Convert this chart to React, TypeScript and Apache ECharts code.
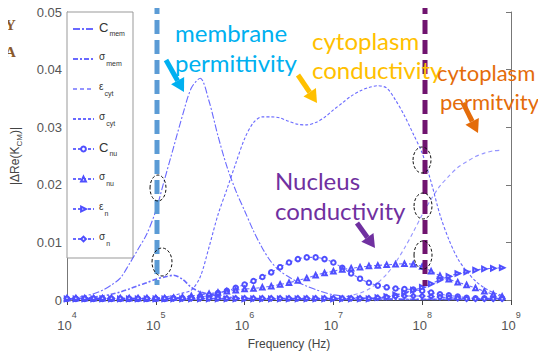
import React, { useEffect, useRef } from "react";
import * as echarts from "echarts";

// log10(frequency) sampling points
const FREQ_EXP = [
  4.0, 4.1, 4.2, 4.3, 4.4, 4.5, 4.6, 4.7, 4.8, 4.9,
  5.0, 5.1, 5.2, 5.3, 5.4, 5.5, 5.6, 5.7, 5.8, 5.9,
  6.0, 6.1, 6.2, 6.3, 6.4, 6.5, 6.6, 6.7, 6.8, 6.9,
  7.0, 7.1, 7.2, 7.3, 7.4, 7.5, 7.6, 7.7, 7.8, 7.9,
  8.0, 8.1, 8.2, 8.3, 8.4, 8.5, 8.6, 8.7, 8.8, 8.9,
];

const C_MEM = [
  0.0002, 0.0004, 0.0007, 0.0011, 0.0017, 0.0026, 0.0038, 0.0062, 0.0088, 0.0115,
  0.0155, 0.021, 0.0265, 0.032, 0.0368, 0.0385, 0.0345, 0.0285, 0.0232, 0.019,
  0.0155, 0.012, 0.009, 0.0066, 0.005, 0.004, 0.0031, 0.0024, 0.0018, 0.0013,
  0.0009, 0.0007, 0.0005, 0.0004, 0.0003, 0.0002, 0.0002, 0.0002, 0.0001, 0.0001,
  0.0001, 0.0001, 0.0001, 0.0001, 0.0001, 0.0001, 0.0001, 0.0001, 0.0001, 0.0001,
];
const SIG_MEM = [
  0.0001, 0.0002, 0.0003, 0.0005, 0.0007, 0.001, 0.0014, 0.0019, 0.0025, 0.003,
  0.0036, 0.004, 0.0043, 0.0036, 0.0022, 0.0014, 0.001, 0.0007, 0.0005, 0.0004,
  0.0003, 0.0002, 0.0002, 0.0002, 0.0001, 0.0001, 0.0001, 0.0001, 0.0001, 0.0001,
  0.0001, 0.0001, 0.0001, 0.0001, 0.0001, 0.0001, 0.0001, 0.0001, 0.0001, 0.0001,
  0.0001, 0.0001, 0.0001, 0.0001, 0.0001, 0.0001, 0.0001, 0.0001, 0.0001, 0.0001,
];
const EPS_CYT = [
  0.0001, 0.0001, 0.0001, 0.0001, 0.0001, 0.0001, 0.0001, 0.0001, 0.0001, 0.0001,
  0.0001, 0.0001, 0.0001, 0.0001, 0.0001, 0.0001, 0.0001, 0.0001, 0.0001, 0.0001,
  0.0001, 0.0001, 0.0001, 0.0001, 0.0001, 0.0002, 0.0002, 0.0002, 0.0002, 0.0002,
  0.0003, 0.0005, 0.0008, 0.0012, 0.0019, 0.003, 0.0045, 0.0065, 0.009, 0.0118,
  0.0148, 0.0175, 0.0198, 0.0215, 0.023, 0.024, 0.0249, 0.0255, 0.0259, 0.026,
];
const SIG_CYT = [
  0.0001, 0.0001, 0.0001, 0.0001, 0.0001, 0.0001, 0.0002, 0.0002, 0.0002, 0.0002,
  0.0003, 0.0005, 0.0008, 0.0012, 0.0017, 0.004, 0.0092, 0.0148, 0.0192, 0.0237,
  0.028, 0.0308, 0.0318, 0.0318, 0.0316, 0.031, 0.0305, 0.0304, 0.0308, 0.0317,
  0.033, 0.0342, 0.0354, 0.0363, 0.0369, 0.0372, 0.0368, 0.0347, 0.032, 0.0288,
  0.0255, 0.0205, 0.0148, 0.0105, 0.0072, 0.005, 0.0033, 0.0021, 0.0013, 0.0008,
];
const C_NU = [
  0.0002, 0.0002, 0.0002, 0.0002, 0.0002, 0.0002, 0.0002, 0.0002, 0.0002, 0.0002,
  0.0002, 0.0002, 0.0003, 0.0003, 0.0004, 0.0005, 0.0008, 0.0012, 0.0016, 0.0021,
  0.0027, 0.0033, 0.004, 0.0048, 0.0057, 0.0065, 0.0071, 0.0074, 0.0074, 0.0071,
  0.0065, 0.0056, 0.0046, 0.0037, 0.003, 0.0025, 0.0022, 0.002, 0.0019, 0.0018,
  0.0016, 0.0013, 0.001, 0.0008, 0.0006, 0.0004, 0.0003, 0.0003, 0.0003, 0.0003,
];
const SIG_NU = [
  0.0003, 0.0003, 0.0003, 0.0003, 0.0003, 0.0003, 0.0003, 0.0003, 0.0003, 0.0003,
  0.0003, 0.0003, 0.0004, 0.0005, 0.0007, 0.0009, 0.0011, 0.0013, 0.0015, 0.0017,
  0.0019, 0.002, 0.0022, 0.0024, 0.0027, 0.003, 0.0034, 0.0038, 0.0043, 0.0047,
  0.005, 0.0053, 0.0055, 0.0057, 0.0059, 0.006, 0.0061, 0.0062, 0.0063, 0.0062,
  0.0058, 0.005, 0.0042, 0.0036, 0.0031, 0.0026, 0.0021, 0.0015, 0.001, 0.0006,
];
const EPS_N = [
  0.0002, 0.0002, 0.0002, 0.0002, 0.0002, 0.0002, 0.0002, 0.0002, 0.0002, 0.0002,
  0.0002, 0.0002, 0.0002, 0.0002, 0.0002, 0.0002, 0.0002, 0.0002, 0.0002, 0.0002,
  0.0002, 0.0002, 0.0002, 0.0002, 0.0002, 0.0002, 0.0002, 0.0002, 0.0002, 0.0002,
  0.0002, 0.0002, 0.0002, 0.0002, 0.0002, 0.0004, 0.0006, 0.0009, 0.0013, 0.0017,
  0.0022, 0.0028, 0.0035, 0.0041, 0.0046, 0.0049, 0.0052, 0.0054, 0.0055, 0.0056,
];
const SIG_N = [
  0.0003, 0.0003, 0.0003, 0.0003, 0.0003, 0.0003, 0.0003, 0.0003, 0.0003, 0.0003,
  0.0003, 0.0003, 0.0003, 0.0003, 0.0003, 0.0003, 0.0003, 0.0003, 0.0003, 0.0003,
  0.0003, 0.0003, 0.0003, 0.0003, 0.0003, 0.0003, 0.0003, 0.0003, 0.0003, 0.0003,
  0.0003, 0.0003, 0.0003, 0.0003, 0.0003, 0.0004, 0.0005, 0.0006, 0.0007, 0.0007,
  0.0007, 0.0006, 0.0005, 0.0004, 0.0003, 0.0002, 0.0002, 0.0002, 0.0002, 0.0002,
];

const SERIES_NAMES = ["C_mem", "σ_mem", "ε_cyt", "σ_cyt", "C_nu", "σ_nu", "ε_n", "σ_n"];
const SERIES_VALUES = [C_MEM, SIG_MEM, EPS_CYT, SIG_CYT, C_NU, SIG_NU, EPS_N, SIG_N];
const Y_TICKS = [0, 0.01, 0.02, 0.03, 0.04, 0.05];

const LINE_COLOR = "#4f4fff";

function arrow(x1: number, y1: number, x2: number, y2: number, color: string) {
  const dx = x2 - x1, dy = y2 - y1;
  const L = Math.hypot(dx, dy);
  const ux = dx / L, uy = dy / L;
  const px = -uy, py = ux;
  const hl = 13, hw = 15;
  const bx = x2 - ux * hl, by = y2 - uy * hl;
  return [
    { type: "line", z: 20, shape: { x1, y1, x2: bx, y2: by }, style: { stroke: color, lineWidth: 5 } },
    {
      type: "polygon", z: 20,
      shape: { points: [[x2, y2], [bx + (px * hw) / 2, by + (py * hw) / 2], [bx - (px * hw) / 2, by - (py * hw) / 2]] },
      style: { fill: color },
    },
  ];
}

function label(text: string, x: number, y: number, color: string, size = 24) {
  return {
    type: "text", z: 21, x, y,
    style: { text, fill: color, fontSize: size, fontFamily: "Lato", align: "left", verticalAlign: "middle" },
  };
}

function ell(cx: number, cy: number, rx: number, ry: number) {
  return {
    type: "ellipse", z: 19, shape: { cx, cy, rx, ry },
    style: { fill: "none", stroke: "#111", lineWidth: 1, lineDash: [3, 2] },
  };
}

const LEGEND_RICH: Record<string, string> = {
  C_mem: "{m|C}{s|mem}",
  "σ_mem": "{g|σ}{s|mem}",
  "ε_cyt": "{g|ε}{s|cyt}",
  "σ_cyt": "{g|σ}{s|cyt}",
  C_nu: "{m|C}{s|nu}",
  "σ_nu": "{g|σ}{s|nu}",
  "ε_n": "{g|ε}{s|n}",
  "σ_n": "{g|σ}{s|n}",
};

export default function App() {
  const ref = useRef<HTMLDivElement>(null);
  useEffect(() => {
    if (!ref.current) return;
    const chart = echarts.init(ref.current, null, { renderer: "svg" });
    const freqs = FREQ_EXP.map((e) => Math.pow(10, e));
    const styles: any[] = [
      { type: [7, 2, 2, 2], symbol: "none" },
      { type: [5, 2, 2, 2], symbol: "none", width: 1.6 },
      { type: [4, 3], symbol: "none", opacity: 0.6 },
      { type: [3, 2], symbol: "none" },
      { type: [3, 2], symbol: "emptyCircle" },
      { type: [3, 2], symbol: "emptyTriangle" },
      { type: [3, 2], symbol: "emptyTriangle", rotate: -90 },
      { type: [3, 2], symbol: "emptyDiamond" },
    ];
    const series = SERIES_NAMES.map((name, i) => ({
      name,
      type: "line",
      data: freqs.map((f, j) => [f, SERIES_VALUES[i][j]]),
      symbol: styles[i].symbol,
      symbolSize: 4.5,
      symbolRotate: styles[i].rotate || 0,
      smooth: 0.3,
      lineStyle: {
        color: LINE_COLOR,
        width: styles[i].width || 1.1,
        type: styles[i].type,
        opacity: styles[i].opacity ?? 0.85,
      },
      itemStyle: { color: LINE_COLOR, borderWidth: 1 },
    }));
    const axisLine = { show: true, lineStyle: { color: "#777", width: 1 } };
    chart.setOption({
      animation: false,
      grid: { left: 67, right: 35, top: 12, bottom: 59 },
      legend: {
        orient: "vertical",
        left: 72,
        top: 21,
        itemWidth: 21,
        itemHeight: 6,
        itemGap: 14,
        padding: 0,
        data: SERIES_NAMES.map((name, i) =>
          styles[i].symbol === "none" ? { name, itemStyle: { opacity: 0 } } : { name }
        ),
        formatter: (n: string) => LEGEND_RICH[n],
        textStyle: {
          color: "#333",
          fontFamily: "Liberation Sans",
          rich: {
            m: { fontSize: 13, lineHeight: 16, verticalAlign: "top" },
            g: { fontSize: 10, lineHeight: 16, verticalAlign: "top" },
            s: { fontSize: 7, lineHeight: 16, verticalAlign: "bottom", padding: [6, 0, 0, 1] },
          },
        },
      },
      xAxis: [
        {
          type: "log",
          logBase: 10,
          min: 1e4,
          max: 1e9,
          position: "bottom",
          name: "Frequency (Hz)",
          nameLocation: "middle",
          nameGap: 38,
          nameTextStyle: { fontSize: 12, color: "#444", fontFamily: "Liberation Sans" },
          axisLine,
          axisTick: { show: true, inside: true, length: 5, lineStyle: { color: "#777" } },
          splitLine: { show: false },
          axisLabel: {
            margin: 10,
            formatter: (v: number) => "{b|10}{sup|" + Math.round(Math.log10(v)) + "}",
            rich: {
              b: { fontSize: 13, color: "#555", fontFamily: "Liberation Sans", lineHeight: 22, verticalAlign: "bottom" },
              sup: { fontSize: 9, color: "#555", fontFamily: "Liberation Sans", lineHeight: 22, verticalAlign: "top" },
            },
          },
        },
        {
          type: "log",
          logBase: 10,
          min: 1e4,
          max: 1e9,
          position: "top",
          axisLine: { show: true, lineStyle: { color: "#444", width: 1 } },
          axisTick: { show: true, inside: true, length: 5, lineStyle: { color: "#444" } },
          axisLabel: { show: false },
          splitLine: { show: false },
        },
      ],
      yAxis: [
        {
          type: "value",
          min: 0,
          max: 0.05,
          interval: 0.01,
          position: "left",
          name: "|ΔRe(K{s|CM})|",
          nameLocation: "middle",
          nameGap: 44,
          nameTextStyle: {
            fontSize: 12,
            color: "#444",
            fontFamily: "Liberation Sans",
            rich: { s: { fontSize: 8, color: "#444", verticalAlign: "bottom", lineHeight: 16 } },
          },
          axisLine,
          axisTick: { show: true, inside: true, length: 5, lineStyle: { color: "#777" } },
          splitLine: { show: false },
          axisLabel: {
            margin: 5,
            fontSize: 13,
            color: "#555",
            fontFamily: "Liberation Sans",
            formatter: (v: number) => {
              const t = Y_TICKS.find((k) => Math.abs(k - v) < 1e-9);
              return t === 0 ? "0" : String(t ?? v);
            },
          },
        },
        {
          type: "value",
          min: 0,
          max: 0.05,
          interval: 0.01,
          position: "right",
          axisLine,
          axisTick: { show: true, inside: true, length: 5, lineStyle: { color: "#777" } },
          axisLabel: { show: false },
          splitLine: { show: false },
        },
      ],
      series,
      graphic: [
        {
          type: "rect", z: 1, shape: { x: 67, y: 12, width: 66, height: 246 },
          style: { fill: "#fff", stroke: "#999", lineWidth: 1 },
        },
        { type: "text", z: 21, x: 5, y: 25, style: { text: "Y", fill: "#8a5a2c", fontSize: 15, fontWeight: "bold", fontFamily: "Liberation Serif", verticalAlign: "middle" } },
        { type: "text", z: 21, x: 5, y: 52, style: { text: "A", fill: "#8a5a2c", fontSize: 15, fontWeight: "bold", fontFamily: "Liberation Serif", verticalAlign: "middle" } },
        {
          type: "line", z: 18, shape: { x1: 157, y1: 0, x2: 157, y2: 285 },
          style: { stroke: "#5b9bd5", lineWidth: 5, lineDash: [14, 6] },
        },
        {
          type: "line", z: 18, shape: { x1: 425, y1: 0, x2: 425, y2: 286 },
          style: { stroke: "#70146f", lineWidth: 5, lineDash: [14, 6] },
        },
        ell(158, 188, 8, 13),
        ell(162, 262, 10, 14),
        ell(422, 160, 9, 13),
        ell(423, 206, 9, 13),
        ell(423, 255, 9, 14),
        label("membrane", 175, 32, "#00b0f0"),
        label("permittivity", 175, 62, "#00b0f0"),
        label("cytoplasm", 312, 40, "#ffc000"),
        label("conductivity", 312, 69, "#ffc000"),
        label("cytoplasm", 437, 72, "#e46c0a", 22),
        label("permitvity", 440, 101, "#e46c0a", 22),
        label("Nucleus", 275, 180, "#7030a0"),
        label("conductivity", 275, 210, "#7030a0"),
        ...arrow(166, 60, 184, 92, "#00b0f0"),
        ...arrow(298, 75, 317, 103, "#ffc000"),
        ...arrow(463, 103, 478, 133, "#e46c0a"),
        ...arrow(357, 223, 375, 248, "#7030a0"),
      ],
    });
    return () => chart.dispose();
  }, []);
  return <div ref={ref} style={{ width: 546, height: 359, margin: -8 }} />;
}
